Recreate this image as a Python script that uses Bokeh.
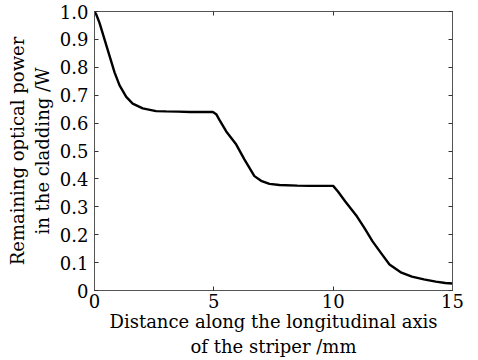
from bokeh.plotting import figure
from bokeh.models import LinearAxis, FixedTicker, Range1d
from bokeh.embed import file_html
from bokeh.resources import INLINE

x_mm = [0, 0.07, 0.21, 0.42, 0.63, 0.84, 1.05, 1.33, 1.6, 2.02, 2.58, 3.0, 3.5, 4.0, 4.5, 4.96,
        5.1, 5.24, 5.52, 5.94, 6.28, 6.7, 6.98, 7.33, 7.75, 8.5, 9.0, 10.0,
        10.2, 10.5, 11.0, 11.3, 11.65, 12.0, 12.36, 12.86, 13.3, 13.8, 14.3, 14.7, 15.0]
power_w = [1.0, 0.99, 0.959, 0.90, 0.841, 0.782, 0.735, 0.694, 0.67, 0.653, 0.643, 0.642, 0.641, 0.64, 0.64, 0.64,
           0.632, 0.611, 0.57, 0.523, 0.47, 0.41, 0.393, 0.382, 0.378, 0.376, 0.375, 0.375,
           0.355, 0.32, 0.265, 0.225, 0.176, 0.135, 0.093, 0.064, 0.05, 0.04, 0.032, 0.027, 0.025]

x_ticks = [0, 5, 10, 15]
y_ticks = [0, 0.1, 0.2, 0.3, 0.4, 0.5, 0.6, 0.7, 0.8, 0.9, 1.0]
y_labels = {0: "0", 0.1: "0.1", 0.2: "0.2", 0.3: "0.3", 0.4: "0.4", 0.5: "0.5",
            0.6: "0.6", 0.7: "0.7", 0.8: "0.8", 0.9: "0.9", 1.0: "1.0"}

FONT = "DejaVu Serif"
FS = "18px"

p = figure(width=472, height=359, output_backend="svg", toolbar_location=None,
           x_range=Range1d(0, 15), y_range=Range1d(0, 1.0),
           min_border_left=94, min_border_top=11, min_border_right=20, min_border_bottom=69,
           x_axis_location=None, y_axis_location=None)
p.grid.visible = False
p.outline_line_color = "#555555"
p.background_fill_color = "white"
p.border_fill_color = "white"

p.line(x_mm, power_w, line_color="black", line_width=2.4)

def style(ax):
    ax.major_tick_in = 4
    ax.major_tick_out = 0
    ax.minor_tick_in = 0
    ax.minor_tick_out = 0
    ax.axis_line_color = "#555555"
    ax.major_tick_line_color = "#333333"
    ax.major_label_text_font = FONT
    ax.major_label_text_font_size = FS
    ax.major_label_text_color = "black"
    ax.axis_label_text_font = FONT
    ax.axis_label_text_font_size = FS
    ax.axis_label_text_font_style = "normal"
    ax.axis_label_text_color = "black"

xb = LinearAxis(ticker=FixedTicker(ticks=x_ticks),
                axis_label="Distance along the longitudinal axis\nof the striper /mm")
style(xb)
xb.major_label_standoff = 3
xb.axis_label_standoff = 0
p.add_layout(xb, "below")

yl = LinearAxis(ticker=FixedTicker(ticks=y_ticks),
                axis_label="Remaining optical power\nin the cladding /W")
style(yl)
yl.major_label_overrides = y_labels
yl.major_label_standoff = 6
yl.axis_label_standoff = 4
p.add_layout(yl, "left")

xt = LinearAxis(ticker=FixedTicker(ticks=x_ticks))
style(xt)
xt.major_label_overrides = {t: "" for t in x_ticks}
p.add_layout(xt, "above")

yr = LinearAxis(ticker=FixedTicker(ticks=y_ticks))
style(yr)
yr.major_label_overrides = {t: "" for t in y_ticks}
p.add_layout(yr, "right")

open("out.html", "w").write(file_html(p, INLINE))
